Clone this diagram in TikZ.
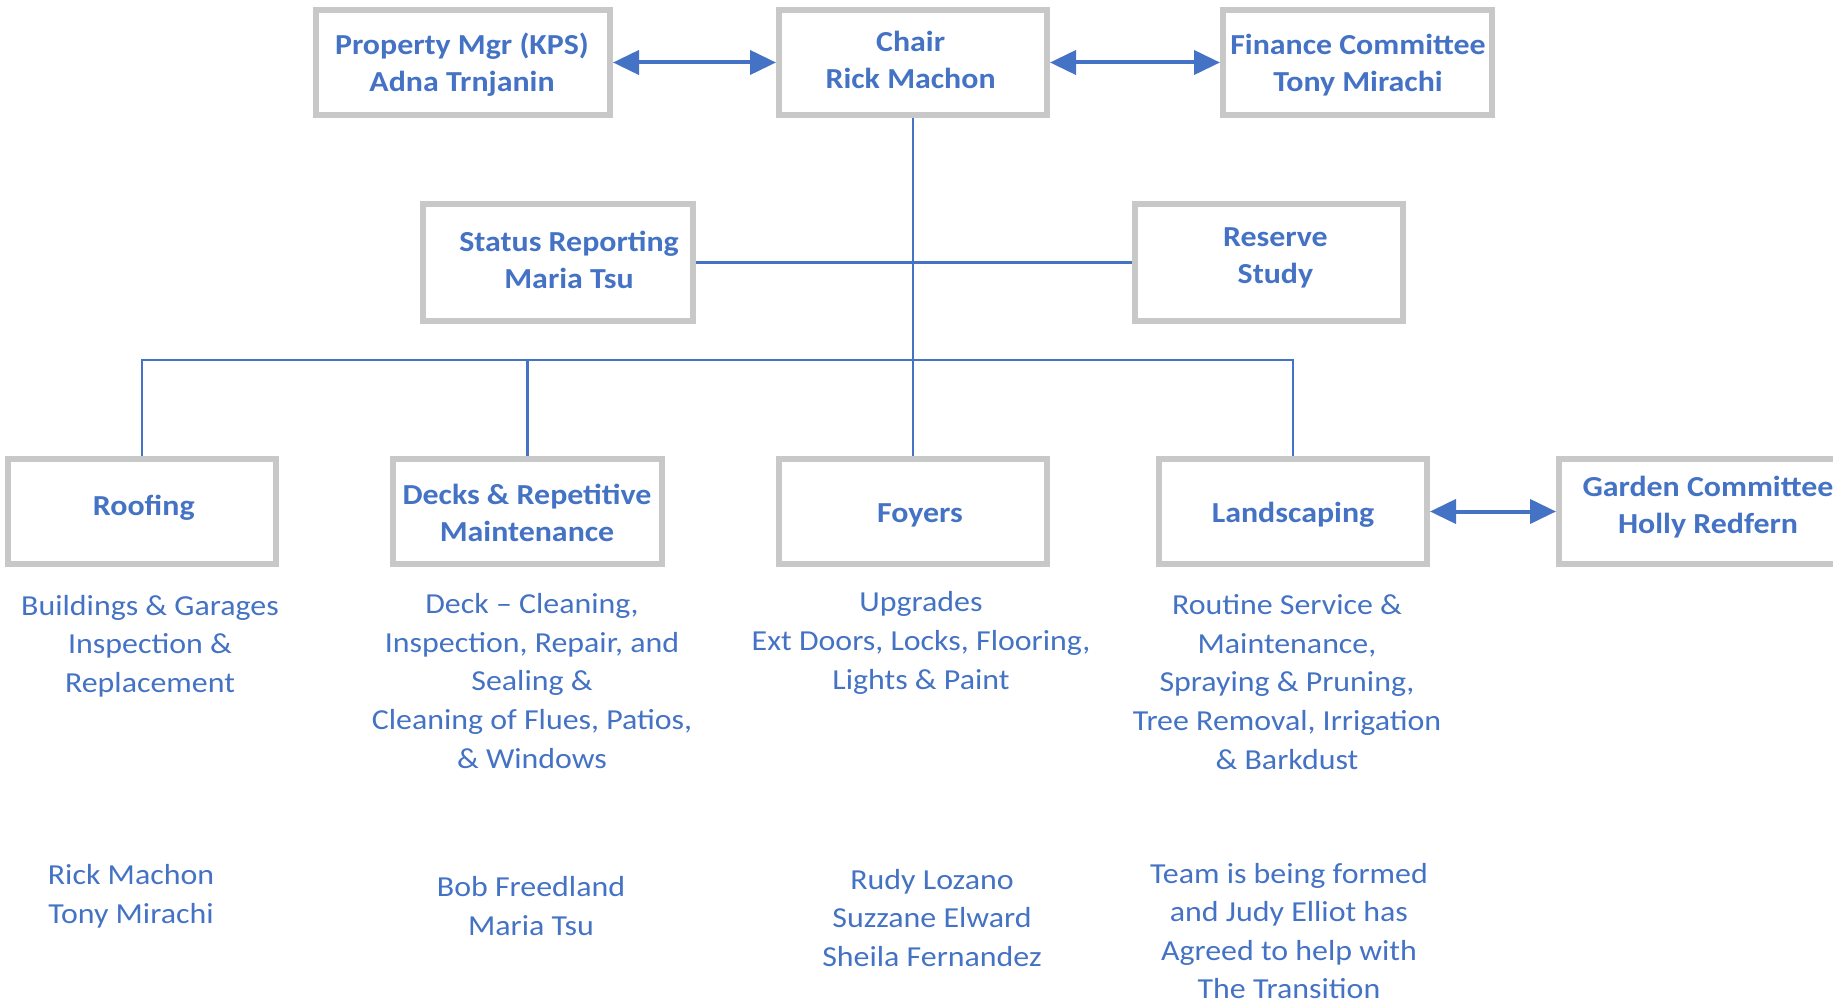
\documentclass[tikz,border=0pt]{standalone}
\usepackage{fontspec}
\setmainfont{Carlito}[FakeStretch=1.1]
\usetikzlibrary{arrows.meta}
\definecolor{ablue}{HTML}{4472C4}
\definecolor{bgray}{HTML}{C8C8C8}
\begin{document}
\begin{tikzpicture}[x=1pt,y=-1pt,
  box/.style={draw=bgray,line width=6pt,fill=white,inner sep=0pt,minimum width=268pt,minimum height=105pt},
  btext/.style={text=ablue,align=center,inner sep=0pt,font=\fontsize{29}{37}\selectfont\bfseries},
  desc/.style={text=ablue,align=center,inner sep=0pt,font=\fontsize{29}{38.6}\selectfont},
  conn/.style={draw=ablue,line width=2.5pt},
  biarrow/.style={draw=ablue,line width=4pt,{Triangle[length=26pt,width=24pt]}-{Triangle[length=26pt,width=24pt]}}]
\useasboundingbox (0,0) rectangle (1833,1003);
\coordinate (bus) at (913,360);
% boxes
\node[box,minimum width=294pt] (prop) at (463,62.5) {};
\node[box] (chair) at (913,62.5) {};
\node[box,minimum width=269pt] (fin) at (1357.5,62.5) {};
\node[box,minimum width=270pt,minimum height=117pt] (status) at (558,262.5) {};
\node[box,minimum height=117pt] (reserve) at (1269,262.5) {};
\node[box] (roof) at (142,511.5) {};
\node[box,minimum width=269pt] (decks) at (527.5,511.5) {};
\node[box] (foyers) at (913,511.5) {};
\node[box] (land) at (1293,511.5) {};
\node[box,minimum width=298pt] (garden) at (1708,511.5) {};
% box texts
\node[btext] (propt) at (462,64.8) {Property Mgr (KPS)\\Adna Trnjanin};
\node[btext] (chairt) at (910.6,59.6) {Chair\\Rick Machon};
\node[btext] (fint) at (1358,64.8) {Finance Committee\\Tony Mirachi};
\node[btext] (statust) at (569,260) {Status Reporting\\Maria Tsu};
\node[btext] (reservet) at (1275.4,258.3) {Reserve\\Study};
\node[btext] (rooft) at (143.8,508) {Roofing};
\node[btext] (deckst) at (527,513) {Decks \& Repetitive\\Maintenance};
\node[btext] (foyerst) at (920,515) {Foyers};
\node[btext] (landt) at (1293,515) {Landscaping};
\node[btext] (gardent) at (1708,507.3) {Garden Committee\\Holly Redfern};
% lines
\draw[conn] (chair.south) -- (foyers.north);
\draw[conn] (status.east) -- (reserve.west);
\draw[conn] (roof.north) -- (roof.north |- bus) -- (land.north |- bus) -- (land.north);
\draw[conn] (decks.north) -- (decks.north |- bus);
\draw[biarrow] (prop.east) -- (chair.west);
\draw[biarrow] (chair.east) -- (fin.west);
\draw[biarrow] (land.east) -- (garden.west);
% descriptions
\node[desc] (droof) at (150,646) {Buildings \& Garages\\Inspection \&\\Replacement};
\node[desc] (ddecks) at (532,681) {Deck -- Cleaning,\\Inspection, Repair, and\\Sealing \&\\Cleaning of Flues, Patios,\\\& Windows};
\node[desc] (dfoy) at (921,643) {Upgrades\\Ext Doors, Locks, Flooring,\\Lights \& Paint};
\node[desc] (dland) at (1287,682) {Routine Service \&\\Maintenance,\\Spraying \& Pruning,\\Tree Removal, Irrigation\\\& Barkdust};
% names
\node[desc] (nroof) at (131,896) {Rick Machon\\Tony Mirachi};
\node[desc] (ndecks) at (531,906) {Bob Freedland\\Maria Tsu};
\node[desc] (nfoy) at (932,918) {Rudy Lozano\\Suzzane Elward\\Sheila Fernandez};
\node[desc] (nland) at (1289,931) {Team is being formed\\and Judy Elliot has\\Agreed to help with\\The Transition};
\end{tikzpicture}
\end{document}
